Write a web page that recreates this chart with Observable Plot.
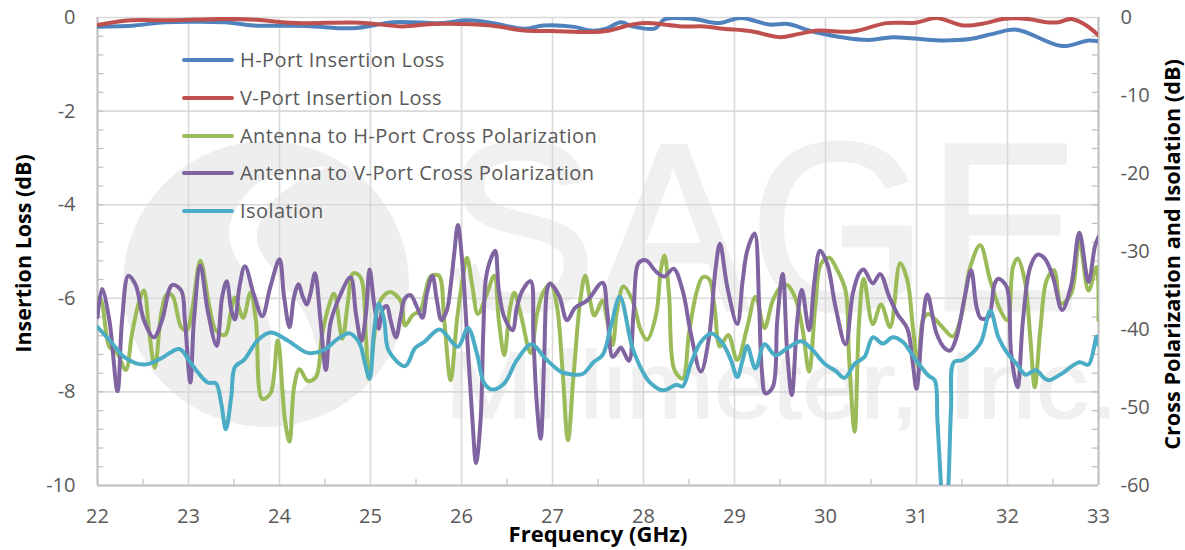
<!DOCTYPE html>
<html><head><meta charset="utf-8">
<script src="https://cdn.jsdelivr.net/npm/d3@7"></script>
<script src="https://cdn.jsdelivr.net/npm/@observablehq/plot@0.6"></script>
<style>
html,body{margin:0;padding:0;background:#fff;}
#stage{position:relative;width:1185px;height:550px;overflow:hidden;font-family:"Open Sans",sans-serif;}
#wm{position:absolute;left:0;top:0;}
#chart{position:absolute;left:0;top:0;}
#chart svg{background:transparent!important;}
.lg{position:absolute;left:240px;font-size:20px;letter-spacing:.43px;color:#595959;line-height:24px;white-space:nowrap;}
.sw{position:absolute;left:182px;width:52px;height:4px;border-radius:2px;}
</style></head><body>
<div id="stage">
<svg id="wm" width="1185" height="550">
  <circle cx="266" cy="284" r="143" fill="#eeeeee"/>
  <path id="swirl" fill="#fff"/>
  <text x="444" y="310" font-family="Liberation Sans" font-size="240" fill="#f0f0f0" stroke="#f0f0f0" stroke-width="3" textLength="636" lengthAdjust="spacingAndGlyphs">SAGE</text>
  <text x="445" y="418" font-family="Liberation Sans" font-size="95" fill="#f0f0f0" stroke="#f0f0f0" stroke-width="1.5" textLength="673" lengthAdjust="spacingAndGlyphs">Millimeter, Inc.</text>
</svg>
<div id="chart"></div>
</div>
<script>
const hPortLoss=[[22,-.2],[22.41,-.17],[22.74,-.1],[23.16,-.09],[23.46,-.11],[23.71,-.17],[24.3,-.18],[24.8,-.23],[25.26,-.1],[25.77,-.12],[26.06,-.06],[26.32,-.11],[26.69,-.24],[26.9,-.17],[27.24,-.2],[27.42,-.28],[27.59,-.24],[27.75,-.1],[27.88,-.19],[28.13,-.23],[28.23,-.04],[28.55,-.03],[28.82,-.12],[29.07,-.01],[29.38,-.15],[29.59,-.14],[29.88,-.31],[30.47,-.48],[30.74,-.42],[31.26,-.49],[31.59,-.46],[31.84,-.35],[32.1,-.26],[32.6,-.61],[32.89,-.49],[33,-.51]];
const vPortLoss=[[22,-.16],[22.37,-.06],[22.83,-.06],[23.42,-.03],[23.75,-.05],[24.17,-.12],[24.89,-.11],[25.35,-.19],[25.68,-.14],[26.32,-.17],[26.69,-.28],[26.99,-.29],[27.42,-.31],[27.59,-.29],[27.88,-.15],[28.05,-.12],[28.42,-.19],[28.67,-.19],[28.88,-.24],[29.17,-.29],[29.5,-.42],[29.71,-.35],[29.92,-.28],[30.3,-.3],[30.67,-.12],[30.99,-.11],[31.22,-.01],[31.51,-.17],[31.76,-.12],[31.95,-.03],[32.22,-.03],[32.43,-.1],[32.56,-.1],[32.7,-.03],[32.85,-.15],[33,-.38]];
const hCrossPol=[[22,-36],[22.04,-36.3],[22.13,-42.2],[22.22,-43.1],[22.31,-45.2],[22.38,-40.5],[22.46,-36.3],[22.51,-35],[22.57,-40.5],[22.63,-44.9],[22.7,-38],[22.76,-35.5],[22.82,-35.6],[22.92,-39.7],[22.98,-40.1],[23.04,-37.5],[23.13,-31.2],[23.23,-37.1],[23.3,-40.1],[23.4,-40.7],[23.47,-37.5],[23.51,-35.9],[23.6,-38.5],[23.68,-35.3],[23.74,-38.8],[23.81,-48.9],[23.9,-48.2],[23.98,-41.4],[24.06,-51.6],[24.11,-54.4],[24.16,-47.4],[24.22,-45.1],[24.31,-46.6],[24.4,-46.1],[24.47,-40.5],[24.55,-36.7],[24.6,-35.4],[24.69,-41.2],[24.75,-36.7],[24.81,-32.8],[24.89,-33.3],[24.95,-41],[24.98,-46.3],[25.04,-41],[25.09,-36.7],[25.21,-35.2],[25.33,-36.3],[25.38,-39.5],[25.46,-38.2],[25.55,-37.5],[25.6,-35.4],[25.66,-33.2],[25.75,-33.1],[25.81,-38.8],[25.88,-46.5],[25.95,-38.8],[26.01,-33.7],[26.06,-30.8],[26.12,-34.5],[26.18,-38],[26.28,-35.4],[26.36,-33.1],[26.41,-38.8],[26.47,-43.3],[26.53,-37.5],[26.58,-35.3],[26.65,-38],[26.76,-43],[26.83,-38],[26.9,-35.2],[26.98,-34.1],[27.05,-37.1],[27.11,-45.2],[27.17,-54.2],[27.23,-46.1],[27.31,-35.8],[27.36,-33.1],[27.42,-36.7],[27.46,-38.2],[27.55,-36.3],[27.6,-38.8],[27.66,-42],[27.71,-37.5],[27.78,-34.5],[27.88,-36.3],[27.97,-40.1],[28.04,-41.3],[28.14,-38],[28.19,-32.4],[28.23,-30.5],[28.28,-35.4],[28.34,-45.2],[28.43,-46.3],[28.5,-40.5],[28.58,-35.4],[28.65,-33.3],[28.72,-33.5],[28.78,-37.1],[28.84,-42.2],[28.93,-40.7],[29.03,-43.9],[29.14,-39.7],[29.23,-35.8],[29.33,-39.8],[29.42,-36.3],[29.51,-34.5],[29.58,-34.3],[29.67,-36],[29.75,-40.1],[29.82,-45.4],[29.89,-36.7],[29.95,-31.6],[30.04,-30.8],[30.13,-32.4],[30.22,-35],[30.26,-43.9],[30.32,-53.1],[30.37,-38.8],[30.42,-33.5],[30.52,-39.3],[30.61,-36.8],[30.71,-39.7],[30.82,-31.5],[30.9,-33.7],[30.96,-39.7],[31.02,-44.8],[31.07,-38.8],[31.13,-38],[31.27,-39.5],[31.4,-40.9],[31.49,-38.4],[31.59,-32],[31.7,-29.2],[31.81,-33.7],[31.92,-37.5],[32,-38.8],[32.06,-32],[32.11,-30.9],[32.19,-33.7],[32.25,-41],[32.3,-47.4],[32.36,-40.1],[32.43,-33.7],[32.51,-32.4],[32.59,-36.7],[32.7,-35.4],[32.79,-28.6],[32.89,-35],[32.98,-32],[33,-38.8]];
const vCrossPol=[[22,-38.4],[22.05,-34.8],[22.13,-38.8],[22.22,-47.9],[22.27,-38.8],[22.34,-33.1],[22.42,-34.3],[22.51,-38.8],[22.62,-41],[22.71,-38.8],[22.82,-34.3],[22.92,-35],[22.96,-38.8],[23.02,-46.8],[23.06,-38.8],[23.13,-31.8],[23.21,-37.5],[23.31,-42.1],[23.37,-35.8],[23.42,-33.8],[23.47,-37.5],[23.51,-38.7],[23.56,-34.5],[23.62,-31.9],[23.72,-35.6],[23.81,-38.3],[23.9,-34.5],[24,-31],[24.05,-35.8],[24.11,-39.7],[24.16,-35.8],[24.21,-34.2],[24.25,-35.6],[24.3,-36.8],[24.34,-35.4],[24.39,-32.8],[24.45,-38.8],[24.51,-45.2],[24.56,-39.2],[24.66,-35.8],[24.78,-33.3],[24.84,-38],[24.9,-41.5],[24.95,-38],[24.99,-32.3],[25.04,-36.7],[25.09,-39.9],[25.13,-37.5],[25.18,-37],[25.22,-38.8],[25.28,-41],[25.33,-38.4],[25.38,-36],[25.44,-35.6],[25.51,-37.1],[25.57,-38.5],[25.62,-35.4],[25.68,-33.1],[25.73,-36.3],[25.78,-38.8],[25.84,-37.5],[25.88,-34.5],[25.92,-30.3],[25.96,-26.6],[26.01,-31.6],[26.06,-40.5],[26.12,-51.6],[26.16,-57.1],[26.21,-51.6],[26.24,-40.1],[26.27,-33.3],[26.33,-30.7],[26.37,-29.9],[26.41,-35],[26.47,-38.4],[26.56,-40.1],[26.61,-37.1],[26.67,-35],[26.76,-33.8],[26.79,-41],[26.83,-49.9],[26.87,-54],[26.91,-43.1],[26.94,-35],[26.97,-34.1],[27.07,-35.6],[27.16,-38.8],[27.25,-37.2],[27.38,-36.3],[27.55,-34],[27.6,-37.5],[27.66,-43.5],[27.71,-42.9],[27.75,-42.3],[27.84,-44],[27.89,-38],[27.94,-31.6],[28,-31.1],[28.04,-31.2],[28.14,-32.6],[28.23,-33.2],[28.33,-32.2],[28.43,-35],[28.52,-40.5],[28.63,-45.4],[28.72,-41],[28.79,-32.4],[28.84,-29],[28.92,-34.5],[29.03,-39.3],[29.09,-33.7],[29.14,-29.9],[29.22,-27.7],[29.27,-36.7],[29.3,-45.2],[29.34,-48.2],[29.42,-47.4],[29.47,-38.8],[29.53,-32.9],[29.58,-43.1],[29.63,-48.4],[29.69,-38.8],[29.74,-34.9],[29.82,-40.1],[29.88,-33.7],[29.94,-29.9],[30.02,-31.6],[30.11,-37.1],[30.22,-41.9],[30.3,-35.4],[30.37,-32.8],[30.42,-32.3],[30.52,-34.1],[30.6,-32.9],[30.7,-35.8],[30.79,-38],[30.9,-39.9],[30.96,-44.4],[31,-47.6],[31.07,-38.8],[31.12,-35.5],[31.22,-40.5],[31.31,-42.4],[31.37,-42.7],[31.44,-41],[31.53,-35.8],[31.6,-32.4],[31.66,-37.1],[31.71,-38.6],[31.79,-38.4],[31.86,-34.1],[31.9,-33.5],[31.99,-34.5],[32.04,-43.1],[32.11,-47.4],[32.17,-38.8],[32.25,-32],[32.33,-30.4],[32.41,-30.9],[32.5,-33.3],[32.6,-37.5],[32.7,-34.3],[32.79,-27.6],[32.89,-33.9],[32.96,-29.4],[33,-28.1]];
const isolation=[[22,-39.7],[22.15,-41.6],[22.29,-43.5],[22.51,-44.5],[22.7,-43.7],[22.9,-42.5],[23.03,-44.4],[23.21,-46.8],[23.3,-46.9],[23.36,-49.5],[23.41,-52.8],[23.47,-48.6],[23.51,-44.8],[23.61,-43.9],[23.76,-41.4],[23.9,-40.4],[24.09,-41.4],[24.31,-43],[24.49,-42.6],[24.64,-41.2],[24.77,-40.5],[24.88,-41.8],[24.93,-43.9],[24.99,-46.3],[25.04,-40.1],[25.09,-36.7],[25.15,-38.8],[25.2,-42.7],[25.38,-44.7],[25.49,-42.4],[25.59,-41.6],[25.76,-40],[25.96,-42.2],[26.07,-39.8],[26.17,-43.1],[26.25,-46.9],[26.34,-47.7],[26.47,-46.9],[26.61,-43.9],[26.77,-41.9],[26.92,-43.7],[27.09,-45.4],[27.18,-45.7],[27.33,-45.7],[27.45,-44.2],[27.55,-43.3],[27.64,-39.7],[27.74,-35.8],[27.88,-42.4],[28,-45.6],[28.08,-46.9],[28.21,-47.8],[28.36,-47.1],[28.43,-47.3],[28.52,-44.4],[28.63,-41.6],[28.75,-40.5],[28.87,-41.8],[28.96,-43.9],[29.03,-46.1],[29.09,-43.9],[29.14,-42.1],[29.23,-45],[29.33,-41.9],[29.45,-43.3],[29.58,-42.4],[29.73,-41.5],[29.84,-42.4],[29.99,-44.4],[30.11,-45.3],[30.21,-46.2],[30.32,-44.4],[30.43,-43.5],[30.52,-41],[30.63,-41.8],[30.74,-41],[30.85,-41.6],[30.98,-43.7],[31.13,-45.9],[31.2,-46.5],[31.23,-51.6],[31.27,-60.2],[31.31,-68.7],[31.35,-60.2],[31.38,-49.9],[31.41,-44.2],[31.51,-43.9],[31.7,-41.8],[31.81,-37.6],[31.9,-41],[31.99,-42.9],[32.1,-44.4],[32.2,-45.8],[32.31,-45.2],[32.41,-46.3],[32.46,-46.5],[32.59,-45.7],[32.79,-44.2],[32.89,-44.5],[32.98,-40.9],[33,-42]];

const seriesNames=["H-Port Insertion Loss","V-Port Insertion Loss","Antenna to H-Port Cross Polarization","Antenna to V-Port Cross Polarization","Isolation"];
const seriesColors=["#4f81bd","#c0504d","#9bbb59","#8064a2","#4bacc6"];
const xTicks=d3.range(22,34);
const leftTicks=[0,-2,-4,-6,-8,-10];
const rightTicks=[0,-10,-20,-30,-40,-50,-60];
const minorX=d3.range(22.5,33,1);
const minorLeft=d3.range(-.4,-10,-.4);
const AXIS="#bfbfbf",GRID="#d9d9d9",TXT="#595959";

// watermark logo swirl (background decoration, not chart data)
const swirlShape=[[327,167],[260,182],[233,215],[230,242],[250,282],[270,325],[273,378],[297,392],[317,365],[307,318],[277,275],[257,242],[267,208],[297,182]];
document.getElementById("swirl").setAttribute("d",d3.line().curve(d3.curveCatmullRomClosed)(swirlShape));

const lineOpts=(c,k)=>({x:d=>d[0],y:d=>d[1]*k,stroke:c,strokeWidth:4,curve:"catmull-rom",clip:true});
const chart=Plot.plot({
  width:1185,height:550,marginLeft:97,marginRight:87,marginTop:17,marginBottom:65,
  style:{background:"transparent",fontFamily:'"Open Sans",sans-serif'},
  x:{domain:[22,33],axis:null},
  y:{domain:[-10,0],axis:null},
  marks:[
    Plot.ruleX(xTicks,{stroke:GRID,strokeWidth:1.6}),
    Plot.ruleY(leftTicks,{stroke:GRID,strokeWidth:1.6}),
    Plot.ruleX([22,33],{stroke:AXIS,strokeWidth:2}),
    Plot.ruleY([-10],{stroke:AXIS,strokeWidth:2}),
    Plot.ruleY(minorLeft,{x1:22,x2:22.07,stroke:AXIS,strokeWidth:1.2}),
    Plot.ruleY(minorLeft,{x1:33,x2:32.93,stroke:AXIS,strokeWidth:1.2}),
    Plot.ruleX(minorX,{y1:-10,y2:-9.87,stroke:AXIS,strokeWidth:1.2}),
    Plot.axisX({ticks:xTicks,tickSize:0,tickPadding:23,fontSize:20,color:TXT,label:null,tickFormat:d=>String(d)}),
    Plot.axisY({anchor:"left",ticks:leftTicks,tickSize:0,tickPadding:22,fontSize:20,color:TXT,label:null,tickFormat:d=>String(d)}),
    Plot.axisY({anchor:"right",ticks:rightTicks.map(d=>d/6),tickSize:0,tickPadding:22,fontSize:20,color:TXT,label:null,tickFormat:d=>String(Math.round(d*6))}),
    Plot.text(["Insertion Loss (dB)"],{frameAnchor:"left",textAnchor:"middle",rotate:-90,dx:-73,dy:2,fontSize:21.5,fontWeight:700,fill:"#000"}),
    Plot.text(["Cross Polarization and Isolation (dB)"],{frameAnchor:"right",textAnchor:"middle",rotate:-90,dx:75,dy:3,fontSize:21.7,fontWeight:700,fill:"#000"}),
    Plot.text(["Frequency (GHz)"],{frameAnchor:"bottom",textAnchor:"middle",dy:56,fontSize:22,fontWeight:700,fill:"#000"}),
    Plot.line(hPortLoss,lineOpts(seriesColors[0],1)),
    Plot.line(vPortLoss,lineOpts(seriesColors[1],1)),
    Plot.line(hCrossPol,lineOpts(seriesColors[2],1/6)),
    Plot.line(vCrossPol,lineOpts(seriesColors[3],1/6)),
    Plot.line(isolation,lineOpts(seriesColors[4],1/6))
  ]
});
document.getElementById("chart").append(chart);
const stage=document.getElementById("stage");
const legendY=[60,98,136,173,211];
seriesNames.forEach((n,i)=>{
  const s=document.createElement("div");s.className="sw";s.style.top=(legendY[i]-2)+"px";s.style.background=seriesColors[i];stage.append(s);
  const t=document.createElement("div");t.className="lg";t.style.top=(legendY[i]-12)+"px";t.textContent=n;stage.append(t);
});
</script>
</body></html>
